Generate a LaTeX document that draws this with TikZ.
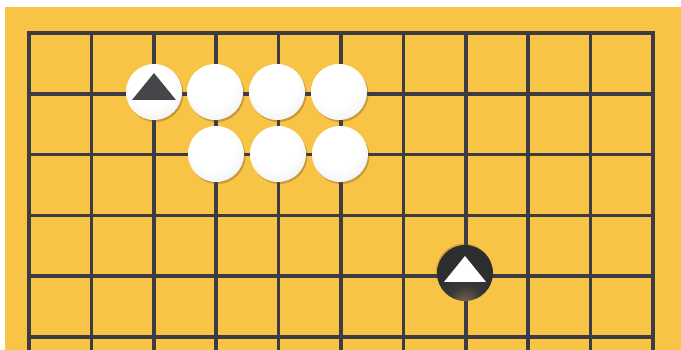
\documentclass[tikz,border=0pt]{standalone}
\usetikzlibrary{shadows}
\definecolor{board}{HTML}{F7C446}
\definecolor{gridc}{HTML}{3D3C44}
\definecolor{markc}{HTML}{46464A}
\pgfdeclareradialshading{wstoneshade}{\pgfpoint{-4bp}{8bp}}{%
  color(0bp)=(white); color(20bp)=(white); color(36bp)=(black!7);
  color(48bp)=(black!20); color(58bp)=(black!32); color(80bp)=(black!32)}
\pgfdeclareradialshading{bstoneshade}{\pgfpoint{0bp}{-30bp}}{%
  color(0bp)=(brown!55!black!80); color(14bp)=(black!78); color(26bp)=(black!82);
  color(80bp)=(black!82)}
\tikzset{
  gridline/.style={draw=gridc, line width=3.6pt},
  wstone/.style={circle, minimum size=56pt, inner sep=0pt, shading=wstoneshade,
    drop shadow={shadow xshift=1.5pt, shadow yshift=-2pt, opacity=0.35, fill=brown!60!black}},
  bstone/.style={circle, minimum size=56pt, inner sep=0pt, shading=bstoneshade,
    drop shadow={shadow xshift=-1pt, shadow yshift=1.5pt, opacity=0.3, fill=brown!70!black}},
}
\begin{document}
\begin{tikzpicture}[x=1pt,y=-1pt]
\useasboundingbox (0,0) rectangle (681,350);
\fill[white] (0,0) rectangle (681,350);
\fill[board] (5,7) rectangle (681,350);
% grid
\foreach \i in {1,...,9} \draw[gridline] ({29+62.4*\i},33) -- ({29+62.4*\i},350);
\foreach \j in {1,...,5} \draw[gridline] (29,{33+60.8*\j}) -- (653,{33+60.8*\j});
\draw[gridline, line join=miter] (29,350) -- (29,33) -- (653,33) -- (653,350);
% stones
\node[wstone] (m) at (154,92) {};
\node[wstone] (w1) at (215,92) {};
\node[wstone] (w2) at (277,92) {};
\node[wstone] (w3) at (339,92) {};
\node[wstone] (w4) at (216,154) {};
\node[wstone] (w5) at (278,154) {};
\node[wstone] (w6) at (340,154) {};
\node[bstone] (b) at (465,273) {};
% triangle marks
\fill[markc, shift={(m.center)}] (-22,8) -- (0,-19) -- (22,8) -- cycle;
\fill[white, shift={(b.center)}] (-21,9) -- (0,-17) -- (21,9) -- cycle;
\end{tikzpicture}
\end{document}
